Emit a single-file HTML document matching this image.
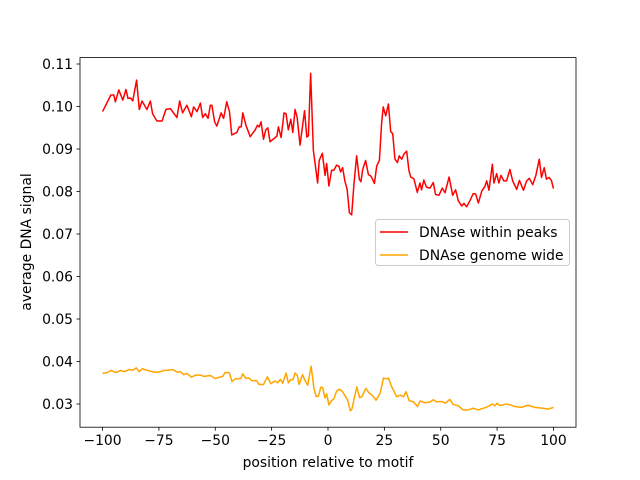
<!DOCTYPE html>
<html><head><meta charset="utf-8"><style>
body{margin:0;background:#fff}
svg{display:block;font-family:"DejaVu Sans","Liberation Sans",sans-serif}
</style></head><body>
<svg id="chart" width="640" height="480" viewBox="0 0 640 480" xmlns="http://www.w3.org/2000/svg">
<rect width="640" height="480" fill="#fff"/>
<g id="plot"></g>
<rect x="80" y="57.6" width="496" height="369.6" fill="none" stroke="#000" stroke-width="0.8"/>
<g id="xt"></g><g id="yt"></g>
<text x="328" y="467" font-size="13.9" text-anchor="middle">position relative to motif</text>
<text transform="translate(31,242) rotate(-90)" font-size="13.9" text-anchor="middle">average DNA signal</text>
<g>
<rect x="375.5" y="219.5" width="194" height="46" rx="3" fill="#fff" fill-opacity="0.8" stroke="#ccc"/>
<line x1="380" y1="232" x2="408" y2="232" stroke="red" stroke-width="1.5"/>
<text x="419" y="237" font-size="13.9">DNAse within peaks</text>
<line x1="380" y1="255" x2="408" y2="255" stroke="orange" stroke-width="1.5"/>
<text x="419" y="260" font-size="13.9">DNAse genome wide</text>
</g>
</svg>
<script>
const xTicks=[-100,-75,-50,-25,0,25,50,75,100];
const yTicks=[0.03,0.04,0.05,0.06,0.07,0.08,0.09,0.10,0.11];
const yTickLabels=["0.03","0.04","0.05","0.06","0.07","0.08","0.09","0.10","0.11"];
const redX=[-100,-96.3,-95,-94.3,-92.8,-91,-89.6,-88.7,-87.6,-86.6,-84.9,-83.7,-82.5,-80.3,-78.8,-77.8,-75.9,-73.6,-71.9,-69.9,-67,-65.8,-64.5,-62.6,-60.6,-59.6,-58.1,-56.6,-55.6,-54.4,-53.2,-52.2,-51.5,-50.3,-49.3,-47.4,-46.3,-44.9,-43.7,-42.7,-40.4,-39.4,-38.5,-37.8,-36.4,-34.5,-32.3,-31.3,-30.5,-29.7,-28.6,-27.6,-26.7,-25.7,-22.7,-22,-20.8,-19.5,-18.6,-17.6,-16.5,-15.6,-14.6,-13.7,-12.4,-10.4,-9.4,-8.7,-7.7,-6.5,-4.6,-3.9,-2.5,-1.3,-0.6,0.4,1.6,2.6,3.8,4.9,5.6,6.5,7.5,8.5,9.5,10.5,11.5,12.7,13.9,14.6,15.4,16.7,17.9,19.1,20.6,21.6,22.8,23.8,24.5,25.6,26.8,27.8,28.7,29.7,30.8,31.6,32.7,33.7,34.9,35.9,36.7,38.1,39.6,40.8,41.5,42.5,43.7,45.2,46.7,47.7,49.2,50.7,51.9,53.7,55.3,56.6,57.8,59.3,60.3,61.5,63,64.4,65.5,66.7,68.2,69.6,70.4,71.4,72.9,73.6,74.8,75.8,76.7,78,79.2,80.7,81.9,83.7,84.9,86.7,88.1,89.3,90.8,92.2,93.7,94.7,95.9,96.9,98.1,99.1,100];
const redY=[0.0988,0.1027,0.1027,0.1011,0.1039,0.1015,0.104,0.1019,0.102,0.1013,0.1062,0.0993,0.1013,0.0993,0.1013,0.0983,0.0966,0.0966,0.0993,0.0995,0.0974,0.1013,0.0985,0.1003,0.0976,0.0999,0.0988,0.1008,0.0974,0.0983,0.0972,0.1003,0.1003,0.0964,0.0954,0.0985,0.0972,0.1011,0.0988,0.0933,0.0939,0.0952,0.0952,0.0985,0.0956,0.0929,0.0945,0.0956,0.0952,0.0964,0.0923,0.0945,0.095,0.0917,0.093,0.0952,0.0927,0.0985,0.0983,0.0945,0.097,0.0939,0.0993,0.0975,0.0909,0.099,0.0928,0.0931,0.1078,0.0897,0.082,0.0873,0.089,0.0838,0.0866,0.0813,0.085,0.085,0.0862,0.0859,0.0846,0.0856,0.0824,0.0805,0.075,0.0745,0.0817,0.0884,0.0829,0.0823,0.0852,0.0873,0.084,0.0836,0.0819,0.086,0.0873,0.0962,0.0999,0.0978,0.1006,0.0941,0.0936,0.0876,0.0868,0.0884,0.0876,0.0888,0.0895,0.0849,0.0834,0.083,0.0798,0.082,0.0804,0.0827,0.081,0.0808,0.0821,0.0793,0.0791,0.0808,0.0797,0.0834,0.0791,0.0804,0.0778,0.0766,0.0772,0.0764,0.0779,0.0795,0.0794,0.0773,0.0801,0.0812,0.0825,0.0803,0.0864,0.082,0.0842,0.082,0.0838,0.0825,0.0825,0.0852,0.0825,0.0805,0.0826,0.0803,0.0825,0.0831,0.0816,0.0838,0.0876,0.0833,0.0856,0.0829,0.0833,0.0826,0.0807];
const orangeX=[-100,-97.8,-96.3,-94.1,-91.9,-90.4,-88.2,-86.5,-85,-83.8,-82.3,-80.1,-77.2,-75,-72.8,-71.3,-68.8,-66.9,-65.4,-64,-62.5,-60.6,-58.8,-56.6,-55.1,-52.2,-50,-48.2,-46.7,-45.6,-43.8,-42.6,-41.2,-38.7,-37.8,-36.4,-35.3,-33.8,-31.6,-30.6,-28.6,-26.9,-25.4,-23.5,-22.3,-21.1,-20.1,-18.6,-17.6,-16.4,-15.5,-14.6,-13.6,-12.8,-11.3,-10.1,-9,-7.5,-6.2,-5.3,-4.3,-3.2,-2.4,-1.3,-0.6,0.4,1.6,2.6,3.8,5,6.3,7.7,8.7,9.9,10.6,11.7,12.8,14,15,16.8,18,19.9,21.3,23.1,24.6,26.1,26.8,28.3,30.5,32,33.5,34.6,36,37.9,39.7,40.8,43,45.3,46.7,48.2,50.4,52.1,54,55.5,57.7,60,62.1,64.4,66.6,69.5,71,72.8,74,75,76.2,79.1,81.4,82.8,85.8,88.7,91.7,95.4,97.6,100];
const orangeY=[0.0372,0.0374,0.0379,0.0374,0.0379,0.0376,0.0381,0.038,0.0385,0.0376,0.0383,0.0379,0.0375,0.0375,0.0379,0.0379,0.0381,0.0375,0.0376,0.0369,0.0372,0.0363,0.0368,0.0368,0.0365,0.0367,0.036,0.0363,0.0365,0.0374,0.0374,0.0353,0.0359,0.036,0.0371,0.036,0.0362,0.0355,0.0355,0.0346,0.0346,0.0364,0.0348,0.0354,0.035,0.0358,0.0349,0.0373,0.035,0.0358,0.0357,0.0373,0.0367,0.0346,0.0369,0.0354,0.0344,0.0389,0.0336,0.0318,0.0318,0.0339,0.0339,0.0314,0.0324,0.0298,0.0308,0.0312,0.033,0.0335,0.033,0.0318,0.0309,0.0284,0.0288,0.0315,0.034,0.0315,0.0317,0.0337,0.0327,0.0319,0.0309,0.0325,0.0361,0.0359,0.0361,0.034,0.0317,0.0321,0.0317,0.0329,0.0308,0.0305,0.0294,0.0307,0.0303,0.0305,0.031,0.0305,0.0306,0.0302,0.0311,0.0299,0.0296,0.0286,0.0286,0.029,0.0286,0.0291,0.0294,0.03,0.0296,0.0302,0.0296,0.03,0.0297,0.0294,0.0292,0.0297,0.0292,0.029,0.0288,0.0292];
const NS="http://www.w3.org/2000/svg";
function sx(v){return 80+(v+110)*496/220;}
function sy(v){return 404-(v-0.03)*4250;}
const plot=document.getElementById('plot');
function line(xs,ys,color,name){
  const p=document.createElementNS(NS,'polyline');
  p.setAttribute('points',xs.map((x,i)=>sx(x).toFixed(2)+','+sy(ys[i]).toFixed(2)).join(' '));
  p.setAttribute('fill','none');p.setAttribute('stroke',color);p.setAttribute('stroke-width','1.5');
  p.setAttribute('stroke-linejoin','round');
  
  
  plot.appendChild(p);
}
line(orangeX,orangeY,'orange','series-genome-wide');
line(redX,redY,'red','series-within-peaks');
const xt=document.getElementById('xt');
xTicks.forEach(t=>{
  const x=sx(t);
  const l=document.createElementNS(NS,'line');
  l.setAttribute('x1',x);l.setAttribute('x2',x);l.setAttribute('y1',427.2);l.setAttribute('y2',430.7);
  l.setAttribute('stroke','#000');l.setAttribute('stroke-width','0.8');
  
  
  xt.appendChild(l);
  const tx=document.createElementNS(NS,'text');
  tx.setAttribute('x',x);tx.setAttribute('y',445);tx.setAttribute('font-size','13.9');tx.setAttribute('text-anchor','middle');
  tx.textContent=(t<0?'\u2212'+(-t):String(t));
  
  
  xt.appendChild(tx);
});
const yt=document.getElementById('yt');
yTicks.forEach((t,i)=>{
  const y=sy(t);
  const l=document.createElementNS(NS,'line');
  l.setAttribute('x1',76.5);l.setAttribute('x2',80);l.setAttribute('y1',y);l.setAttribute('y2',y);
  l.setAttribute('stroke','#000');l.setAttribute('stroke-width','0.8');
  
  
  yt.appendChild(l);
  const tx=document.createElementNS(NS,'text');
  tx.setAttribute('x',73);tx.setAttribute('y',y+5);tx.setAttribute('font-size','13.9');tx.setAttribute('text-anchor','end');
  tx.textContent=yTickLabels[i];
  
  
  yt.appendChild(tx);
});
</script>
</body></html>
